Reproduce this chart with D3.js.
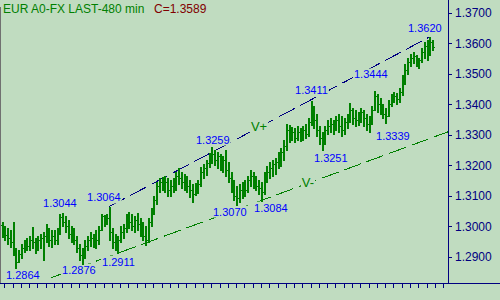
<!DOCTYPE html>
<html><head><meta charset="utf-8">
<script src="https://cdn.jsdelivr.net/npm/d3@7/dist/d3.min.js"></script>
<style>html,body{margin:0;padding:0;background:#c0dcc0;}svg{display:block;}</style>
</head><body>
<svg id="chart" width="500" height="300"></svg>
<script>
const titleText = "EUR A0-FX LAST-480 min";
const closeText = "C=1.3589";
const barOpen = [
1.3004,1.2981,1.2971,1.2961,1.2948,1.2922,1.2882,1.2909,1.2929,1.2942,
1.2935,1.2955,1.2948,1.2929,1.2955,1.2961,1.2968,1.2994,1.2955,1.2968,
1.2955,1.2981,1.3030,1.3014,1.3001,1.2974,1.2988,1.2955,1.2929,1.2906,
1.2896,1.2935,1.2955,1.2961,1.2968,1.2955,1.2988,1.3033,1.3020,1.3027,
1.2981,1.2948,1.2935,1.2955,1.2981,1.2994,1.3027,1.3014,1.3001,1.3020,
1.3007,1.2988,1.2968,1.2955,1.3014,1.3047,1.3086,1.3132,1.3145,1.3132,
1.3145,1.3119,1.3132,1.3138,1.3165,1.3158,1.3145,1.3158,1.3132,1.3119,
1.3106,1.3132,1.3138,1.3178,1.3191,1.3207,1.3224,1.3237,1.3217,1.3230,
1.3204,1.3217,1.3184,1.3158,1.3125,1.3099,1.3092,1.3119,1.3132,1.3119,
1.3151,1.3165,1.3145,1.3132,1.3125,1.3112,1.3158,1.3178,1.3191,1.3204,
1.3211,1.3230,1.3243,1.3263,1.3315,1.3302,1.3309,1.3289,1.3309,1.3296,
1.3315,1.3302,1.3342,1.3387,1.3348,1.3315,1.3289,1.3276,1.3315,1.3329,
1.3335,1.3322,1.3348,1.3329,1.3315,1.3342,1.3355,1.3381,1.3355,1.3348,
1.3361,1.3374,1.3355,1.3335,1.3348,1.3381,1.3427,1.3401,1.3387,1.3368,
1.3361,1.3401,1.3420,1.3427,1.3417,1.3440,1.3479,1.3512,1.3538,1.3551,
1.3558,1.3538,1.3545,1.3571,1.3591,1.3584,1.3604];
const barHigh = [
1.3014,1.3001,1.2994,1.2988,1.3014,1.2929,1.2922,1.2942,1.2955,1.2961,
1.2968,1.2998,1.2961,1.2968,1.2974,1.2981,1.3007,1.2994,1.2988,1.2988,
1.2994,1.3040,1.3044,1.3033,1.3020,1.3001,1.2994,1.2968,1.2942,1.2929,
1.2955,1.2968,1.2981,1.2974,1.2988,1.3001,1.3040,1.3037,1.3040,1.3064,
1.2994,1.2974,1.2968,1.3001,1.3007,1.3040,1.3047,1.3040,1.3033,1.3043,
1.3027,1.3014,1.3001,1.3027,1.3060,1.3099,1.3145,1.3158,1.3161,1.3165,
1.3158,1.3151,1.3158,1.3178,1.3191,1.3178,1.3171,1.3165,1.3151,1.3138,
1.3142,1.3151,1.3194,1.3204,1.3217,1.3240,1.3259,1.3250,1.3243,1.3237,
1.3230,1.3250,1.3211,1.3178,1.3151,1.3132,1.3138,1.3145,1.3151,1.3165,
1.3184,1.3178,1.3165,1.3151,1.3145,1.3178,1.3197,1.3211,1.3217,1.3224,
1.3243,1.3256,1.3283,1.3335,1.3332,1.3325,1.3322,1.3329,1.3322,1.3329,
1.3335,1.3355,1.3411,1.3394,1.3368,1.3329,1.3309,1.3329,1.3348,1.3355,
1.3348,1.3361,1.3368,1.3361,1.3355,1.3368,1.3404,1.3387,1.3381,1.3374,
1.3387,1.3381,1.3368,1.3361,1.3394,1.3444,1.3433,1.3420,1.3401,1.3387,
1.3414,1.3433,1.3440,1.3437,1.3453,1.3496,1.3532,1.3551,1.3565,1.3571,
1.3561,1.3551,1.3584,1.3604,1.3610,1.3620,1.3610];
const barLow = [
1.2965,1.2955,1.2942,1.2932,1.2906,1.2864,1.2882,1.2896,1.2915,1.2922,
1.2922,1.2929,1.2912,1.2922,1.2929,1.2889,1.2948,1.2935,1.2932,1.2942,
1.2942,1.2974,1.3001,1.2981,1.2961,1.2948,1.2942,1.2915,1.2889,1.2876,
1.2896,1.2922,1.2935,1.2932,1.2929,1.2942,1.2988,1.3001,1.3007,1.2955,
1.2929,1.2922,1.2911,1.2948,1.2961,1.2981,1.2994,1.2988,1.2981,1.2988,
1.2968,1.2955,1.2938,1.2948,1.3001,1.3040,1.3073,1.3112,1.3119,1.3112,
1.3099,1.3099,1.3112,1.3119,1.3138,1.3125,1.3119,1.3112,1.3096,1.3079,
1.3102,1.3109,1.3132,1.3158,1.3168,1.3194,1.3207,1.3201,1.3191,1.3184,
1.3178,1.3165,1.3145,1.3112,1.3086,1.3070,1.3079,1.3092,1.3099,1.3112,
1.3132,1.3125,1.3119,1.3106,1.3084,1.3106,1.3145,1.3158,1.3165,1.3171,
1.3191,1.3197,1.3217,1.3250,1.3276,1.3283,1.3276,1.3283,1.3279,1.3283,
1.3289,1.3296,1.3332,1.3322,1.3296,1.3269,1.3251,1.3269,1.3302,1.3309,
1.3302,1.3315,1.3309,1.3296,1.3302,1.3322,1.3342,1.3335,1.3329,1.3332,
1.3342,1.3329,1.3315,1.3309,1.3335,1.3381,1.3374,1.3368,1.3355,1.3339,
1.3361,1.3394,1.3407,1.3401,1.3407,1.3430,1.3466,1.3499,1.3525,1.3535,
1.3525,1.3519,1.3538,1.3551,1.3545,1.3561,1.3578];
const barClose = [
1.2981,1.2971,1.2961,1.2948,1.2929,1.2882,1.2909,1.2929,1.2942,1.2935,
1.2955,1.2948,1.2929,1.2955,1.2961,1.2968,1.2994,1.2955,1.2968,1.2955,
1.2981,1.3030,1.3014,1.3001,1.2974,1.2988,1.2955,1.2929,1.2906,1.2896,
1.2935,1.2955,1.2961,1.2968,1.2955,1.2988,1.3033,1.3020,1.3027,1.2981,
1.2948,1.2935,1.2955,1.2981,1.2994,1.3027,1.3014,1.3001,1.3020,1.3007,
1.2988,1.2968,1.2955,1.3014,1.3047,1.3086,1.3132,1.3145,1.3132,1.3145,
1.3119,1.3132,1.3138,1.3165,1.3158,1.3145,1.3158,1.3132,1.3119,1.3106,
1.3132,1.3138,1.3178,1.3191,1.3207,1.3224,1.3237,1.3217,1.3230,1.3204,
1.3217,1.3184,1.3158,1.3125,1.3099,1.3092,1.3119,1.3132,1.3119,1.3151,
1.3165,1.3145,1.3132,1.3125,1.3112,1.3158,1.3178,1.3191,1.3204,1.3211,
1.3230,1.3243,1.3263,1.3315,1.3302,1.3309,1.3289,1.3309,1.3296,1.3315,
1.3302,1.3342,1.3387,1.3348,1.3315,1.3289,1.3276,1.3315,1.3329,1.3335,
1.3322,1.3348,1.3329,1.3315,1.3342,1.3355,1.3381,1.3355,1.3348,1.3361,
1.3374,1.3355,1.3335,1.3348,1.3381,1.3427,1.3401,1.3387,1.3368,1.3361,
1.3401,1.3420,1.3427,1.3417,1.3440,1.3479,1.3512,1.3538,1.3551,1.3558,
1.3538,1.3545,1.3571,1.3591,1.3584,1.3604,1.3589];
const priceTicks = [1.29,1.30,1.31,1.32,1.33,1.34,1.35,1.36,1.37];
const pivotText = ["1.2864","1.2876","1.2911","1.3044","1.3064","1.3259","1.3070","1.3084","1.3411","1.3251","1.3444","1.3339","1.3620"];
const pivotBar  = [5,29,42,22,39,76,85,94,112,116,135,139,155];
const upperPivotBar = [39,155], upperPivotPrice = [1.3064,1.3620];
const lowerPivotBar = [42,94],  lowerPivotPrice = [1.2911,1.3084];
const lowerSpanBar = [18,165];
const channelText = ["V+","V-"];
const channelTextBar = [93.3,111];

// ---- layout / style ----
const W=500,H=300, axisX=448, axisY=283;
const BG="#c0dcc0", NAVY="#000080", GREEN="#008000";
const labelOffsets = [[-9.3,11],[-19.5,9.5],[-15.4,12.2],[-19.2,-5.3],[-22.1,-5.2],[-15.3,-3.7],[-23.1,10.7],[-6.9,11],[-15.6,-7.3],[-7.7,12],[-20.1,-12.3],[-9.1,16.7],[-21.3,-5.1]];

const svg=d3.select("#chart");
svg.append("rect").attr("width",W).attr("height",H).attr("fill",BG);

const x=d3.scaleLinear().domain([0,160]).range([1.5,443.1]);
const y=d3.scaleLinear().domain([1.28,1.37]).range([287.2,12.7]);

svg.append("rect").attr("x",0).attr("y",7).attr("width",1).attr("height",axisY-7).attr("fill","#707070");

const plot=svg.append("g");
function lineAt(bars,prices,b){const t=(b-bars[0])/(bars[1]-bars[0]);return prices[0]+t*(prices[1]-prices[0]);}
plot.append("line")
  .attr("x1",x(upperPivotBar[0])).attr("y1",y(upperPivotPrice[0]))
  .attr("x2",x(upperPivotBar[1])).attr("y2",y(upperPivotPrice[1]))
  .attr("stroke",NAVY).attr("stroke-width",1).attr("stroke-dasharray","18,6").attr("shape-rendering","crispEdges");
const lx1=lowerSpanBar[0], lx2=lowerSpanBar[1];
svg.append("clipPath").attr("id","pc").append("rect").attr("x",0).attr("y",0).attr("width",axisX).attr("height",axisY);
plot.append("line").attr("clip-path","url(#pc)")
  .attr("x1",x(lx1)).attr("y1",y(lineAt(lowerPivotBar,lowerPivotPrice,lx1)))
  .attr("x2",x(lx2)).attr("y2",y(lineAt(lowerPivotBar,lowerPivotPrice,lx2)))
  .attr("stroke",GREEN).attr("stroke-width",1).attr("stroke-dasharray","18,6").attr("shape-rendering","crispEdges");

const lab=svg.append("g").attr("font-family","Arial, 'Liberation Sans', sans-serif").attr("font-size","11px");
pivotText.forEach((t,k)=>{
  const bx=x(pivotBar[k])+labelOffsets[k][0], by=y(+t)+labelOffsets[k][1];
  const tx=lab.append("text").attr("x",bx).attr("y",by).attr("fill","#0000ff").text(t);
  const bb=tx.node().getBBox();
  lab.insert("rect","text").attr("x",bb.x-1).attr("y",bb.y).attr("width",bb.width+2).attr("height",bb.height).attr("fill",BG);
});
channelText.forEach((t,k)=>{
  const b=channelTextBar[k];
  const p= k===0 ? lineAt(upperPivotBar,upperPivotPrice,b) : lineAt(lowerPivotBar,lowerPivotPrice,b);
  const tx=lab.append("text").attr("x",x(b)).attr("y",y(p)+4).attr("text-anchor","middle")
    .attr("font-size","13px").attr("fill",GREEN).text(t);
  const bb=tx.node().getBBox();
  lab.insert("rect","text").attr("x",bb.x-1).attr("y",bb.y).attr("width",bb.width+2).attr("height",bb.height).attr("fill",BG);
});

const bars=svg.append("g").attr("fill",GREEN).attr("shape-rendering","crispEdges");
barClose.forEach((c,i)=>{
  const xi=Math.round(x(i));
  const yh=Math.round(y(barHigh[i])), yl=Math.round(y(barLow[i]));
  bars.append("rect").attr("x",xi).attr("y",yh).attr("width",2).attr("height",Math.max(1,yl-yh+1));
  bars.append("rect").attr("x",xi-1).attr("y",Math.round(y(barOpen[i]))).attr("width",1).attr("height",1);
  bars.append("rect").attr("x",xi+2).attr("y",Math.round(y(c))).attr("width",1).attr("height",1);
});

const ax=svg.append("g").attr("transform",`translate(${axisX},0)`)
  .call(d3.axisRight(y).tickValues(priceTicks).tickFormat(d3.format(".4f")).tickSize(4).tickPadding(3));
ax.select(".domain").remove();
ax.selectAll("line").attr("stroke",NAVY).attr("shape-rendering","crispEdges");
ax.selectAll("text").attr("fill",NAVY).attr("font-size","12px").attr("font-family","Arial, 'Liberation Sans', sans-serif");
svg.append("line").attr("x1",axisX+0.5).attr("x2",axisX+0.5).attr("y1",0).attr("y2",axisY).attr("stroke",NAVY);

const bt=svg.append("g").attr("transform",`translate(0,${axisY})`)
  .call(d3.axisBottom(x).tickValues(d3.range(1,161,3)).tickFormat("").tickSize(5));
bt.select(".domain").remove();
bt.selectAll("line").attr("stroke",NAVY).attr("shape-rendering","crispEdges");
svg.append("line").attr("x1",0).attr("x2",W).attr("y1",axisY+0.5).attr("y2",axisY+0.5).attr("stroke",NAVY);

const tt=svg.append("text").attr("x",3).attr("y",13).attr("font-family","Arial, 'Liberation Sans', sans-serif").attr("font-size","12px");
tt.append("tspan").attr("fill",GREEN).text(titleText);
tt.append("tspan").attr("x",154).attr("fill","#800000").text(closeText);
</script>
</body></html>
